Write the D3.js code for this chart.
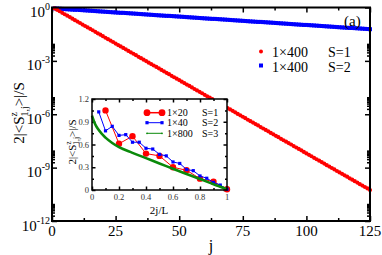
<!DOCTYPE html>
<html><head><meta charset="utf-8">
<script src="https://cdn.jsdelivr.net/npm/d3@7"></script>
<style>
body{margin:0;background:#fff}
svg{display:block}
</style>
</head><body>
<svg id="c" width="382" height="255"></svg>
<script>
// ---------- main panel data (log10 of 2|<S^z_{1,j}>|/S, j = 1..125) ----------
const s1Log10 = [-0.05,-0.13,-0.21,-0.30,-0.38,-0.46,-0.54,-0.63,-0.71,-0.79,
-0.87,-0.96,-1.04,-1.12,-1.20,-1.28,-1.37,-1.45,-1.53,-1.61,
-1.70,-1.78,-1.86,-1.94,-2.03,-2.11,-2.19,-2.27,-2.35,-2.44,
-2.52,-2.60,-2.68,-2.77,-2.85,-2.93,-3.01,-3.10,-3.18,-3.26,
-3.34,-3.42,-3.51,-3.59,-3.67,-3.75,-3.84,-3.92,-4.00,-4.08,
-4.17,-4.25,-4.33,-4.41,-4.49,-4.58,-4.66,-4.74,-4.82,-4.91,
-4.99,-5.07,-5.15,-5.24,-5.32,-5.40,-5.48,-5.56,-5.65,-5.73,
-5.81,-5.89,-5.98,-6.06,-6.14,-6.22,-6.31,-6.39,-6.47,-6.55,
-6.63,-6.72,-6.80,-6.88,-6.96,-7.05,-7.13,-7.21,-7.29,-7.38,
-7.46,-7.54,-7.62,-7.70,-7.79,-7.87,-7.95,-8.03,-8.12,-8.20,
-8.28,-8.36,-8.45,-8.53,-8.61,-8.69,-8.77,-8.86,-8.94,-9.02,
-9.10,-9.19,-9.27,-9.35,-9.43,-9.51,-9.60,-9.68,-9.76,-9.84,
-9.93,-10.01,-10.09,-10.17,-10.26];
const s2Log10 = [-0.05,-0.06,-0.07,-0.08,-0.09,-0.10,-0.11,-0.12,-0.13,-0.13,
-0.14,-0.15,-0.16,-0.17,-0.18,-0.19,-0.20,-0.21,-0.22,-0.23,
-0.24,-0.25,-0.26,-0.27,-0.28,-0.29,-0.30,-0.30,-0.31,-0.32,
-0.33,-0.34,-0.35,-0.36,-0.37,-0.38,-0.39,-0.40,-0.41,-0.42,
-0.43,-0.44,-0.45,-0.46,-0.47,-0.47,-0.48,-0.49,-0.50,-0.51,
-0.52,-0.53,-0.54,-0.55,-0.56,-0.57,-0.58,-0.59,-0.60,-0.61,
-0.62,-0.63,-0.64,-0.64,-0.65,-0.66,-0.67,-0.68,-0.69,-0.70,
-0.71,-0.72,-0.73,-0.74,-0.75,-0.76,-0.77,-0.78,-0.79,-0.80,
-0.81,-0.81,-0.82,-0.83,-0.84,-0.85,-0.86,-0.87,-0.88,-0.89,
-0.90,-0.91,-0.92,-0.93,-0.94,-0.95,-0.96,-0.97,-0.98,-0.98,
-0.99,-1.00,-1.01,-1.02,-1.03,-1.04,-1.05,-1.06,-1.07,-1.08,
-1.09,-1.10,-1.11,-1.12,-1.13,-1.14,-1.15,-1.15,-1.16,-1.17,
-1.18,-1.19,-1.20,-1.21,-1.22];
const mainLegend = ["1\u00d7400", "1\u00d7400"];
const mainLegendS = ["S=1", "S=2"];
const xTicks = [0, 25, 50, 75, 100, 125];
const xMinorTicks = [12.5, 37.5, 62.5, 87.5, 112.5];
const yTickExps = [0, -3, -6, -9, -12];

// ---------- inset data ----------
const in1x = [0.1,0.2,0.3,0.4,0.5,0.6,0.7,0.8,0.9,1.0];
const in1y = [1.05,0.61,0.71,0.48,0.45,0.30,0.26,0.15,0.11,0.01];
const in2x = [0.05,0.1,0.15,0.2,0.25,0.3,0.35,0.4,0.45,0.5,0.55,0.6,0.65,0.7,0.75,0.8,0.85,0.9,0.95,1.0];
const in2y = [1.03,0.78,0.84,0.72,0.73,0.63,0.63,0.55,0.54,0.47,0.45,0.37,0.35,0.27,0.255,0.185,0.155,0.10,0.065,0.01];
const in3x = [0,0.02,0.05,0.1,0.15,0.2,0.3,0.4,0.5,0.6,0.7,0.8,0.9,1.0];
const in3y = [0.98,0.88,0.79,0.69,0.62,0.565,0.49,0.42,0.35,0.28,0.21,0.145,0.075,0.01];
const inLegend = ["1\u00d720", "1\u00d740", "1\u00d7800"];
const inLegendS = ["S=1", "S=2", "S=3"];
const inXTicks = [0,0.2,0.4,0.6,0.8,1];
const inXMinor = [0.1,0.3,0.5,0.7,0.9];
const inYTicks = [0,0.3,0.6,0.9,1.2];
const inYMinor = [0.15,0.45,0.75,1.05];

const RED = "#ff0000", BLUE = "#0000ff", GREEN = "#0a8a0a";
const FONT = "Liberation Serif";
const svg = d3.select("#c");

// ---------- main scales ----------
const x = d3.scaleLinear().domain([0,125]).range([52,370]);
const y = d3.scaleLog().domain([1e-12,1]).range([221,7.5]);
const yMajor = yTickExps.map(e => Math.pow(10,e));
const yMinor = [];
[-12,-9,-6,-3].forEach(e => [2,3,4,5,6,7,8,9].forEach(m => yMinor.push(m*Math.pow(10,e))));

function axisG(axis, tx, ty){
  const g = svg.append("g").attr("transform",`translate(${tx},${ty})`).call(axis);
  g.select(".domain").remove();
  g.selectAll("line").attr("stroke","#000").attr("stroke-width",1.5);
  g.selectAll("text").remove();
  return g;
}
function txt(sel){ return sel.attr("font-family",FONT).attr("fill","#000"); }

axisG(d3.axisBottom(x).tickValues(xTicks).tickSize(-5).tickFormat(""),0,221);
axisG(d3.axisBottom(x).tickValues(xMinorTicks).tickSize(-3).tickFormat(""),0,221);
axisG(d3.axisTop(x).tickValues(xTicks).tickSize(-5).tickFormat(""),0,7.5);
axisG(d3.axisTop(x).tickValues(xMinorTicks).tickSize(-3).tickFormat(""),0,7.5);
axisG(d3.axisLeft(y).tickValues(yMajor).tickSize(-5).tickFormat(""),52,0);
axisG(d3.axisLeft(y).tickValues(yMinor).tickSize(-3).tickFormat(""),52,0);
axisG(d3.axisRight(y).tickValues(yMajor).tickSize(-5).tickFormat(""),370,0);
axisG(d3.axisRight(y).tickValues(yMinor).tickSize(-3).tickFormat(""),370,0);

// series
const s1 = s1Log10.map((v,i)=>({j:i+1, v:Math.pow(10,v)}));
const s2 = s2Log10.map((v,i)=>({j:i+1, v:Math.pow(10,v)}));
svg.append("g").selectAll("rect").data(s2).join("rect")
  .attr("x",d=>x(d.j)-2).attr("y",d=>y(d.v)-2).attr("width",4).attr("height",4).attr("fill",BLUE);
svg.append("g").selectAll("circle").data(s1).join("circle")
  .attr("cx",d=>x(d.j)).attr("cy",d=>y(d.v)).attr("r",2.1).attr("fill",RED);

// frame
svg.append("rect").attr("x",52).attr("y",7.5).attr("width",318).attr("height",213.5)
  .attr("fill","none").attr("stroke","#000").attr("stroke-width",2);

// tick labels
txt(svg.append("g").selectAll("text").data(xTicks).join("text"))
  .attr("x",d=>x(d)).attr("y",236).attr("text-anchor","middle").attr("font-size",15).text(d=>d);
const yl = txt(svg.append("g").selectAll("text").data(yTickExps).join("text"))
  .attr("x",50).attr("y",d=>y(Math.pow(10,d))+9.5).attr("text-anchor","end").attr("font-size",15);
yl.append("tspan").text("10");
yl.append("tspan").attr("font-size",10).attr("dy",-7).text(d=>d===0?"0":"-"+(-d));

// axis titles
txt(svg.append("text")).attr("x",211).attr("y",251).attr("text-anchor","middle").attr("font-size",16).text("j");
const yt = txt(svg.append("text")).attr("transform","translate(24,113) rotate(-90)")
  .attr("text-anchor","middle").attr("font-size",15);
yt.append("tspan").text("2|<S");
yt.append("tspan").attr("font-size",10).attr("dy",-7).text("z");
yt.append("tspan").attr("font-size",10).attr("dx",-4.5).attr("dy",11).text("1,j");
yt.append("tspan").attr("dy",-4).text(">|/S");

// (a)
txt(svg.append("text")).attr("x",344).attr("y",26).attr("font-size",15).text("(a)");

// main legend
const lg = svg.append("g");
lg.append("circle").attr("cx",261).attr("cy",51.5).attr("r",2).attr("fill",RED);
lg.append("rect").attr("x",259).attr("y",63.5).attr("width",4).attr("height",4).attr("fill",BLUE);
txt(lg.selectAll("text.a").data(mainLegend).join("text").attr("class","a"))
  .attr("x",272).attr("y",(d,i)=>57+i*14.5).attr("font-size",14).text(d=>d);
txt(lg.selectAll("text.b").data(mainLegendS).join("text").attr("class","b"))
  .attr("x",328).attr("y",(d,i)=>57+i*14.5).attr("font-size",14).text(d=>d);

// ---------- inset ----------
const xi = d3.scaleLinear().domain([0,1]).range([92,227]);
const yi = d3.scaleLinear().domain([0,1.2]).range([190,99]);
svg.append("rect").attr("x",92).attr("y",99).attr("width",135).attr("height",91).attr("fill","#fff");

axisG(d3.axisBottom(xi).tickValues(inXTicks).tickSize(-3.5).tickFormat(""),0,190);
axisG(d3.axisBottom(xi).tickValues(inXMinor).tickSize(-2).tickFormat(""),0,190);
axisG(d3.axisTop(xi).tickValues(inXTicks).tickSize(-3.5).tickFormat(""),0,99);
axisG(d3.axisTop(xi).tickValues(inXMinor).tickSize(-2).tickFormat(""),0,99);
axisG(d3.axisLeft(yi).tickValues(inYTicks).tickSize(-3.5).tickFormat(""),92,0);
axisG(d3.axisLeft(yi).tickValues(inYMinor).tickSize(-2).tickFormat(""),92,0);
axisG(d3.axisRight(yi).tickValues(inYTicks).tickSize(-3.5).tickFormat(""),227,0);
axisG(d3.axisRight(yi).tickValues(inYMinor).tickSize(-2).tickFormat(""),227,0);

const line = d3.line().x(d=>xi(d[0])).y(d=>yi(d[1]));
const d1 = in1x.map((v,i)=>[v,in1y[i]]);
const d2 = in2x.map((v,i)=>[v,in2y[i]]);
const d3d = in3x.map((v,i)=>[v,in3y[i]]);
svg.append("path").attr("d",line(d1)).attr("fill","none").attr("stroke",RED).attr("stroke-width",1);
svg.append("g").selectAll("circle").data(d1).join("circle")
  .attr("cx",d=>xi(d[0])).attr("cy",d=>yi(d[1])).attr("r",3.2).attr("fill",RED);
svg.append("path").attr("d",line(d2)).attr("fill","none").attr("stroke",BLUE).attr("stroke-width",1);
svg.append("g").selectAll("rect").data(d2).join("rect")
  .attr("x",d=>xi(d[0])-1.6).attr("y",d=>yi(d[1])-1.6).attr("width",3.2).attr("height",3.2).attr("fill",BLUE);
svg.append("path").attr("d",d3.line().curve(d3.curveMonotoneX).x(d=>xi(d[0])).y(d=>yi(d[1]))(d3d))
  .attr("fill","none").attr("stroke",GREEN).attr("stroke-width",2.6);

svg.append("rect").attr("x",92).attr("y",99).attr("width",135).attr("height",91)
  .attr("fill","none").attr("stroke","#000").attr("stroke-width",1.5);

// inset tick labels
txt(svg.append("g").selectAll("text").data(inXTicks).join("text"))
  .attr("x",d=>xi(d)).attr("y",200).attr("text-anchor","middle").attr("font-size",8.5)
  .attr("fill","#333").text(d=>d);
txt(svg.append("g").selectAll("text").data(inYTicks).join("text"))
  .attr("x",89).attr("y",d=>yi(d)+3).attr("text-anchor","end").attr("font-size",8.5)
  .attr("fill","#333").text(d=>d);
txt(svg.append("text")).attr("x",159).attr("y",214).attr("text-anchor","middle").attr("font-size",11).text("2j/L");
const it = txt(svg.append("text")).attr("transform","translate(76,142) rotate(-90)")
  .attr("text-anchor","middle").attr("font-size",11);
it.append("tspan").text("2|<S");
it.append("tspan").attr("font-size",7.5).attr("dy",-5).text("z");
it.append("tspan").attr("font-size",7.5).attr("dx",-3.5).attr("dy",8).text("1,j");
it.append("tspan").attr("dy",-3).text(">|/S");

// inset legend
const ly = [112.7, 122.7, 133.3];
const ilg = svg.append("g");
ilg.append("line").attr("x1",147).attr("x2",162).attr("y1",ly[0]).attr("y2",ly[0]).attr("stroke",RED).attr("stroke-width",1.5);
[147,162].forEach(cx=>ilg.append("circle").attr("cx",cx).attr("cy",ly[0]).attr("r",3.4).attr("fill",RED));
ilg.append("line").attr("x1",147).attr("x2",162).attr("y1",ly[1]).attr("y2",ly[1]).attr("stroke",BLUE).attr("stroke-width",1);
[147,162].forEach(cx=>ilg.append("rect").attr("x",cx-1.6).attr("y",ly[1]-1.6).attr("width",3.2).attr("height",3.2).attr("fill",BLUE));
ilg.append("line").attr("x1",147).attr("x2",162).attr("y1",ly[2]).attr("y2",ly[2]).attr("stroke",GREEN).attr("stroke-width",1);
[147,162].forEach(cx=>ilg.append("circle").attr("cx",cx).attr("cy",ly[2]).attr("r",0.9).attr("fill",GREEN));
txt(ilg.selectAll("text.a").data(inLegend).join("text").attr("class","a"))
  .attr("x",167).attr("y",(d,i)=>ly[i]+3.5).attr("font-size",10).text(d=>d);
txt(ilg.selectAll("text.b").data(inLegendS).join("text").attr("class","b"))
  .attr("x",202).attr("y",(d,i)=>ly[i]+3.5).attr("font-size",10).text(d=>d);
</script>
</body></html>
